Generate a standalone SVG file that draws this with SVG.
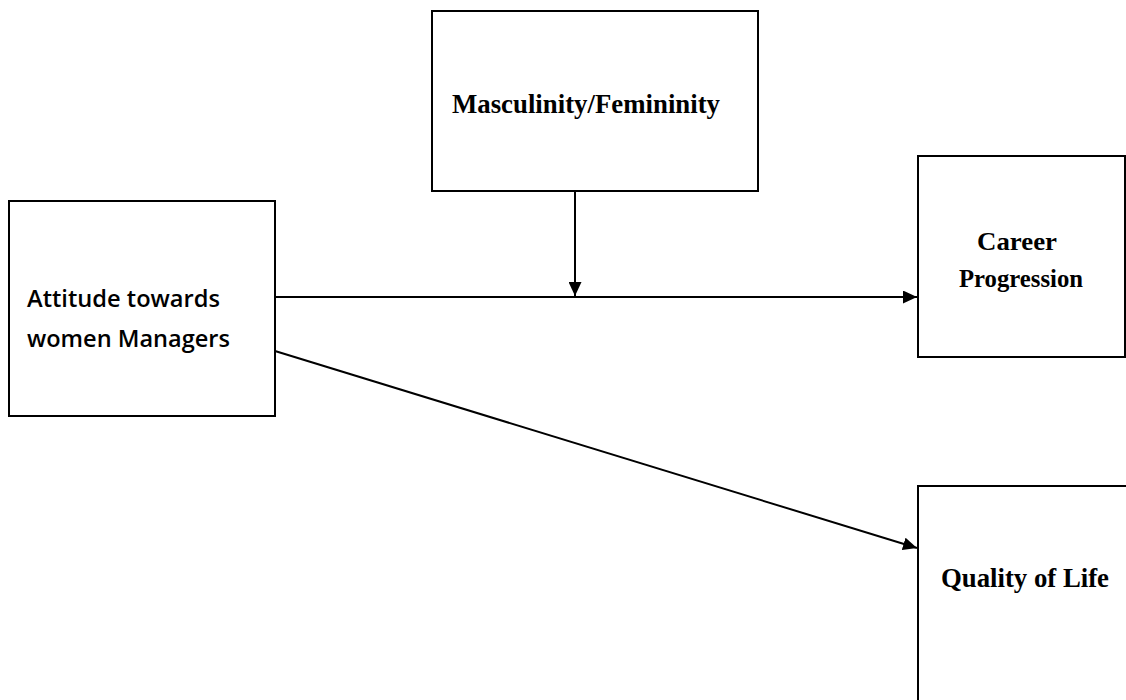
<svg xmlns="http://www.w3.org/2000/svg" width="1126" height="700" viewBox="0 0 1126 700">
<style>
.box{fill:#fff;stroke:#000;stroke-width:2}
.conn{stroke:#000;stroke-width:2;fill:none}
.cal{font-family:"Open Sans","Liberation Sans",sans-serif;font-weight:600;font-size:24px;fill:#000}
.tnr{font-family:"Liberation Serif","Times New Roman",serif;font-weight:bold;fill:#000}
</style>
<defs>
<marker id="ah" markerWidth="14" markerHeight="13" refX="14" refY="6.5" orient="auto" markerUnits="userSpaceOnUse">
<path d="M0,0 L14,6.5 L0,13 Z" fill="#000"/>
</marker>
</defs>
<rect width="1126" height="700" fill="#fff"/>
<g id="connectors">
<line class="conn" x1="275" y1="297" x2="917" y2="297" marker-end="url(#ah)"/>
<line class="conn" x1="575" y1="191" x2="575" y2="296" marker-end="url(#ah)"/>
<line class="conn" x1="275" y1="351" x2="917" y2="548" marker-end="url(#ah)"/>
</g>
<g id="attitude">
<rect class="box" x="9" y="201" width="266" height="215"/>
<text class="cal" x="27" y="307" textLength="193" lengthAdjust="spacingAndGlyphs">Attitude towards</text>
<text class="cal" x="27" y="347" textLength="203" lengthAdjust="spacingAndGlyphs">women Managers</text>
</g>
<g id="masculinity">
<rect class="box" x="432" y="11" width="326" height="180"/>
<text class="tnr" x="452" y="113" font-size="28" textLength="268" lengthAdjust="spacingAndGlyphs">Masculinity/Femininity</text>
</g>
<g id="career">
<rect class="box" x="918" y="156" width="207" height="201"/>
<text class="tnr" x="977" y="250" font-size="26" textLength="80" lengthAdjust="spacingAndGlyphs">Career</text>
<text class="tnr" x="959" y="287" font-size="26" textLength="124" lengthAdjust="spacingAndGlyphs">Progression</text>
</g>
<g id="quality">
<rect class="box" x="918" y="486" width="220" height="230"/>
<text class="tnr" x="941" y="587" font-size="28" textLength="168" lengthAdjust="spacingAndGlyphs">Quality of Life</text>
</g>
</svg>
